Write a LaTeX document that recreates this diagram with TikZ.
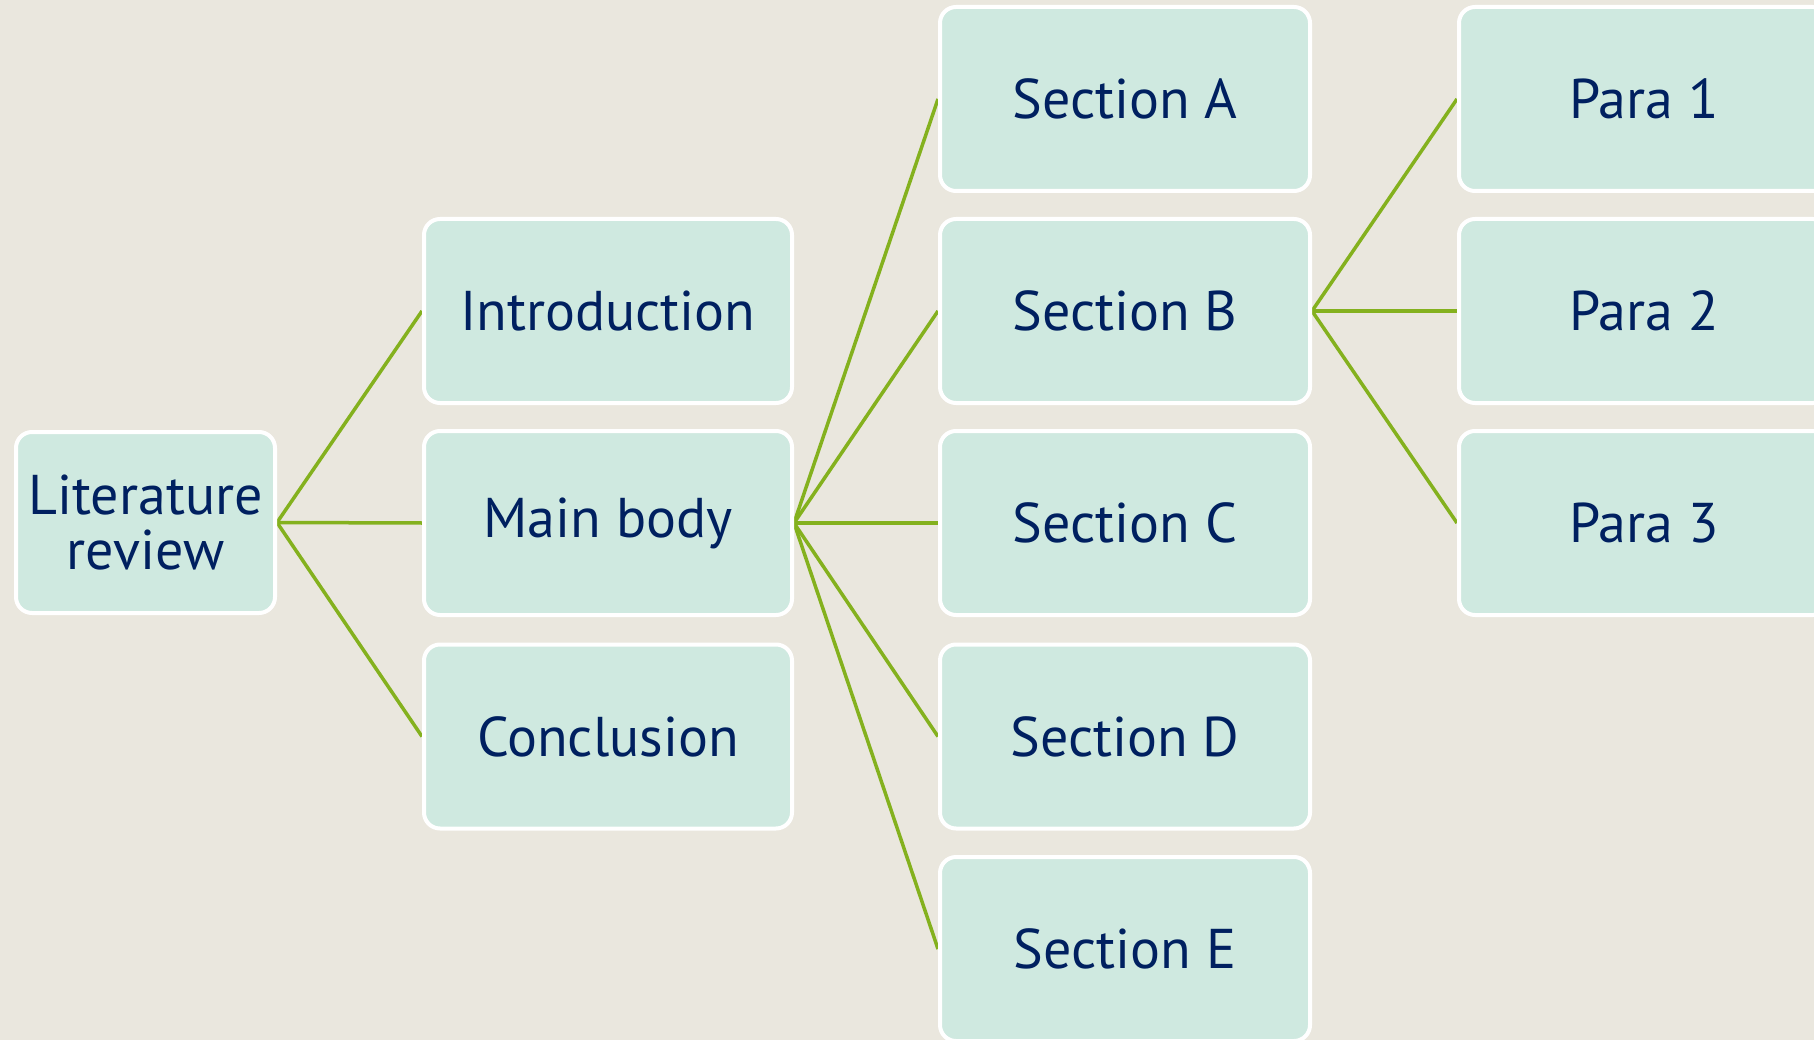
\documentclass[tikz,border=0pt]{standalone}
\usepackage{fontspec}
\setmainfont{PT Sans}
\usetikzlibrary{backgrounds}
\definecolor{bgcol}{HTML}{EAE7DE}
\definecolor{boxfill}{HTML}{CFE9E0}
\definecolor{ink}{HTML}{002060}
\definecolor{branch}{HTML}{84B11E}

\begin{document}
\begin{tikzpicture}[x=1pt,y=-1pt,
  card/.style={rectangle, rounded corners=16pt, draw=white, line width=4pt,
    fill=boxfill, text=ink, font=\fontsize{56}{55}\selectfont,
    minimum width=368pt, minimum height=184pt, inner sep=2pt, align=center},
  rootcard/.style={card, minimum width=259pt, minimum height=181pt},
  link/.style={draw=branch, line width=3.5pt}]
\useasboundingbox (0,0) rectangle (1814,1040);
\clip (0,0) rectangle (1814,1040);

% root
\node[rootcard] (lit) at (145.5,522.5) {Literature\\review};

% first level
\node[card] (intro) at (608,311)   {Introduction};
\node[card] (main)  at (608,523)   {Main body};
\node[card] (concl) at (608,736.5) {Conclusion};

% sections of the main body
\node[card, minimum width=370pt] (secA) at (1125,99)    {Section A};
\node[card, minimum width=370pt] (secB) at (1125,311)   {Section B};
\node[card, minimum width=370pt] (secC) at (1125,523)   {Section C};
\node[card, minimum width=370pt] (secD) at (1125,736.5) {Section D};
\node[card, minimum width=370pt] (secE) at (1125,949)   {Section E};

% paragraphs of section B
\node[card, minimum width=370pt] (p1) at (1644,99)  {Para 1};
\node[card, minimum width=370pt] (p2) at (1644,311) {Para 2};
\node[card, minimum width=370pt] (p3) at (1644,523) {Para 3};

\begin{pgfonlayer}{background}
  \fill[bgcol] (0,0) rectangle (1814,1040);
  \foreach \c in {intro,main,concl} \draw[link] (lit.east) -- (\c.west);
  \foreach \c in {secA,secB,secC,secD,secE} \draw[link] (main.east) -- (\c.west);
  \foreach \c in {p1,p2,p3} \draw[link] (secB.east) -- (\c.west);
\end{pgfonlayer}
\end{tikzpicture}
\end{document}
